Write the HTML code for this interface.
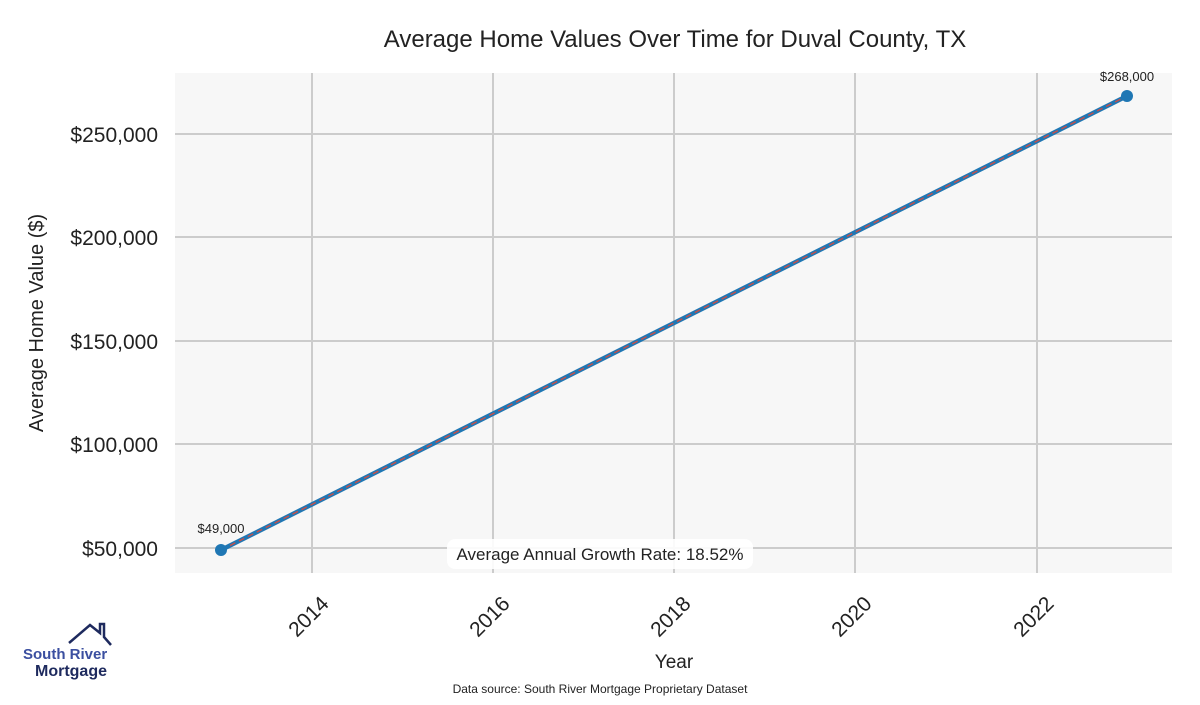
<!DOCTYPE html>
<html><head><meta charset="utf-8"><style>
body{margin:0;background:#fff;}
svg text{font-family:"Liberation Sans",sans-serif;}
</style></head><body>
<svg width="1200" height="700" xmlns="http://www.w3.org/2000/svg">
<rect width="1200" height="700" fill="#fff"/>
<rect x="175" y="73" width="997" height="500" fill="#f7f7f7"/>
<g stroke="#cccccc" stroke-width="2">
<line x1="175" x2="1172" y1="134" y2="134"/>
<line x1="175" x2="1172" y1="237" y2="237"/>
<line x1="175" x2="1172" y1="341" y2="341"/>
<line x1="175" x2="1172" y1="444" y2="444"/>
<line x1="175" x2="1172" y1="548" y2="548"/>
<line y1="73" y2="573" x1="312" x2="312"/>
<line y1="73" y2="573" x1="493" x2="493"/>
<line y1="73" y2="573" x1="674" x2="674"/>
<line y1="73" y2="573" x1="855" x2="855"/>
<line y1="73" y2="573" x1="1037" x2="1037"/>
</g>
<text x="675" y="47" text-anchor="middle" font-size="24" fill="#222">Average Home Values Over Time for Duval County, TX</text>
<g font-size="21" fill="#222" text-anchor="end">
<text x="158" y="142">$250,000</text>
<text x="158" y="245">$200,000</text>
<text x="158" y="349">$150,000</text>
<text x="158" y="452">$100,000</text>
<text x="158" y="556">$50,000</text>
</g>
<text transform="translate(43,323) rotate(-90)" text-anchor="middle" font-size="20" fill="#222">Average Home Value ($)</text>
<g font-size="21" fill="#222" text-anchor="end">
<text transform="translate(330,605) rotate(-45)">2014</text>
<text transform="translate(511,605) rotate(-45)">2016</text>
<text transform="translate(692,605) rotate(-45)">2018</text>
<text transform="translate(873,605) rotate(-45)">2020</text>
<text transform="translate(1055,605) rotate(-45)">2022</text>
</g>
<text x="674" y="668" text-anchor="middle" font-size="19" fill="#222">Year</text>
<text x="600" y="693" text-anchor="middle" font-size="12" fill="#222">Data source: South River Mortgage Proprietary Dataset</text>
<line x1="221" y1="550" x2="1127" y2="96" stroke="#1f77b4" stroke-width="4.5"/>
<line x1="221" y1="550" x2="1127" y2="96" stroke="#c0504d" stroke-width="1.5" stroke-dasharray="6,4"/>
<circle cx="221" cy="550" r="6" fill="#1f77b4"/>
<circle cx="1127" cy="96" r="6" fill="#1f77b4"/>
<text x="221" y="533" text-anchor="middle" font-size="13" fill="#222">$49,000</text>
<text x="1127" y="81" text-anchor="middle" font-size="13" fill="#222">$268,000</text>
<rect x="447" y="539" width="306" height="30" rx="8" fill="#fff" opacity="0.9"/>
<text x="600" y="560" text-anchor="middle" font-size="17" fill="#222">Average Annual Growth Rate: 18.52%</text>
<polyline points="69,643 90,625 100,633 100,624 104,624 104,637 111,645" fill="none" stroke="#1e2a5e" stroke-width="2.5"/>
<text x="23" y="659" font-size="15" font-weight="bold" fill="#3b4fa0">South River</text>
<text x="35" y="676" font-size="16" font-weight="bold" fill="#1e2a5e">Mortgage</text>
</svg>
</body></html>
